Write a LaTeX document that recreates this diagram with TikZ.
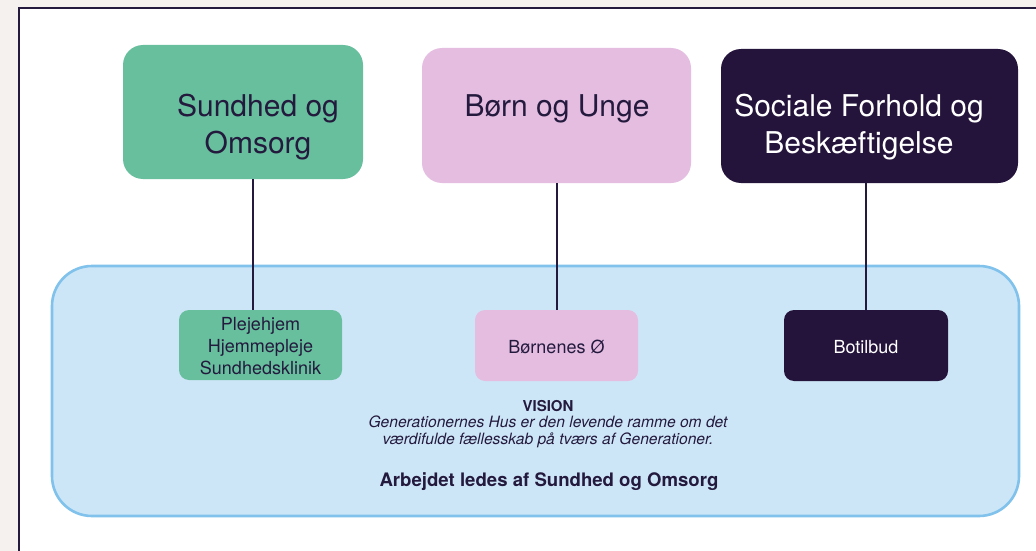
\documentclass[tikz,border=0pt]{standalone}
\usepackage{fontspec}
\setmainfont{TeX Gyre Heros}
\definecolor{bgc}{HTML}{F5F1EE}
\definecolor{navy}{HTML}{231A3D}
\definecolor{greenc}{HTML}{68BF9E}
\definecolor{pinkc}{HTML}{E4BDE1}
\definecolor{darkc}{HTML}{24133A}
\definecolor{bluefill}{HTML}{CDE6F7}
\definecolor{blueline}{HTML}{80C2EC}
\begin{document}
\begin{tikzpicture}[x=1pt,y=-1pt,
  bigbox/.style={rounded corners=20pt,draw=none},
  smallbox/.style={rounded corners=10pt,draw=none},
  conn/.style={draw=navy,line width=1.2pt}]
\useasboundingbox (0,0) rectangle (1036,551);
\fill[bgc] (0,0) rectangle (1036,551);
\draw[fill=white,draw=navy,line width=1.6pt] (19,8) rectangle (1040,555);
% big blue container
\draw[fill=bluefill,draw=blueline,line width=2.6pt,rounded corners=40pt] (52,266) rectangle (1019,516);
% top boxes
\path[fill=greenc,bigbox] (123,45) rectangle (363,179);
\path[fill=pinkc,bigbox] (422,48) rectangle (691,183);
\path[fill=darkc,bigbox] (721,49) rectangle (1018,183);
\coordinate (t1) at (253,179);
\coordinate (t2) at (557,183);
\coordinate (t3) at (866,183);
\node[text=navy,font=\fontsize{30}{37}\selectfont,align=center] (l1) at (258,127.5) {Sundhed og\\Omsorg};
\node[text=navy,font=\fontsize{30}{37}\selectfont] (l2) at (557,109) {Børn og Unge};
\node[text=white,font=\fontsize{30}{37}\selectfont,align=center] (l3) at (859,127.5) {Sociale Forhold og\\Beskæftigelse};
% small boxes
\path[fill=greenc,smallbox] (179,310) rectangle (342,380);
\path[fill=pinkc,smallbox] (475,310) rectangle (638,381);
\path[fill=darkc,smallbox] (784,310) rectangle (948,381);
\coordinate (b1) at (253,310);
\coordinate (b2) at (557,310);
\coordinate (b3) at (866,310);
\node[text=navy,font=\fontsize{18}{22}\selectfont,align=center] (s1) at (260.5,346) {Plejehjem\\Hjemmepleje\\Sundhedsklinik};
\node[text=navy,font=\fontsize{18}{22}\selectfont] (s2) at (556.5,347) {Børnenes Ø};
\node[text=white,font=\fontsize{18}{22}\selectfont] (s3) at (866,347) {Botilbud};
\draw[conn] (t1) -- (b1);
\draw[conn] (t2) -- (b2);
\draw[conn] (t3) -- (b3);
% vision texts
\node[text=navy,font=\fontsize{15}{17}\selectfont\bfseries] (vis) at (548,406) {VISION};
\node[text=navy,font=\fontsize{15.6}{17}\selectfont\itshape,align=center] (vtxt) at (548,432) {Generationernes Hus er den levende ramme om det\\værdifulde fællesskab på tværs af Generationer.};
\node[text=navy,font=\fontsize{18.6}{22}\selectfont\bfseries] (lead) at (549,482) {Arbejdet ledes af Sundhed og Omsorg};
\end{tikzpicture}
\end{document}
